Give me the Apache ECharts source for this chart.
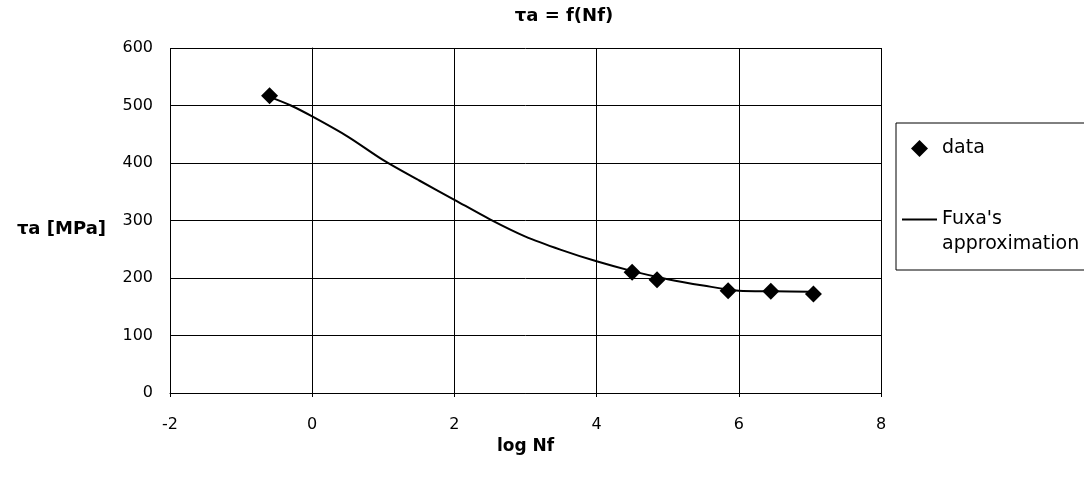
<!DOCTYPE html>
<html>
<head>
<meta charset="utf-8">
<script src="https://cdn.jsdelivr.net/npm/echarts@6/dist/echarts.min.js"></script>
<style>
  html, body { margin: 0; padding: 0; background: #fff; }
  #main { width: 1084px; height: 483px; }
</style>
</head>
<body>
<div id="main"></div>
<script>
// measured points (log Nf, tau_a)
var dataX = [-0.6, 4.5, 4.85, 5.85, 6.45, 7.05];
var dataY = [517, 210, 197, 178, 177, 172];

// Fuxa's approximation curve
var fitX = [-0.6, -0.3, 0, 0.5, 1, 1.5, 2, 2.5, 3, 3.5, 4, 4.5, 5, 5.5, 6, 6.5, 7];
var fitY = [515, 500, 481, 446, 405, 370, 336, 302, 272, 249, 229, 212, 198, 187, 178, 177, 176];

var xTicks = [-2, 0, 2, 4, 6, 8];
var yTicks = [0, 100, 200, 300, 400, 500, 600];

var font = 'DejaVu Sans';
var fitName = "Fuxa's\napproximation";

function pairs(xs, ys) {
  var out = [];
  for (var i = 0; i < xs.length; i++) out.push([xs[i], ys[i]]);
  return out;
}

// legend icons: extra zero-length moves keep the 35x17 box so shapes are not stretched
var diamondIcon = 'path://M0,8.5L0,8.5M35,8.5L35,8.5M17.5,-0.5L26.5,8.5L17.5,17.5L8.5,8.5Z';
var lineIcon = 'path://M0,0L0,0M0,17L0,17M0,7.5L35,7.5L35,9.5L0,9.5Z';

var chart = echarts.init(document.getElementById('main'));

var option = {
  backgroundColor: '#fff',
  animation: false,
  title: {
    text: 'τa = f(Nf)',
    left: 559,
    top: 2,
    textAlign: 'center',
    textStyle: { fontFamily: font, fontSize: 18, fontWeight: 'bold', color: '#000' }
  },
  grid: { left: 170, right: 203, top: 48, bottom: 90 },
  legend: {
    orient: 'vertical',
    left: 896,
    top: 123,
    padding: [13, 200, 13, 6],
    itemGap: 21,
    itemWidth: 35,
    itemHeight: 17,
    borderColor: '#000',
    borderWidth: 1,
    backgroundColor: '#fff',
    textStyle: { fontFamily: font, fontSize: 19, color: '#000', lineHeight: 25 },
    formatter: function (name) {
      // empty first line so the icon sits level with "Fuxa's"
      return name === fitName ? '\n' + name : name;
    },
    data: [
      { name: 'data', icon: diamondIcon, itemStyle: { color: '#000' } },
      { name: fitName, icon: lineIcon, itemStyle: { color: '#000' } }
    ]
  },
  xAxis: {
    type: 'value',
    min: xTicks[0],
    max: xTicks[xTicks.length - 1],
    interval: 2,
    name: 'log Nf',
    nameLocation: 'middle',
    nameGap: 36,
    nameTextStyle: { fontFamily: font, fontSize: 17, fontWeight: 'bold', color: '#000' },
    axisLine: { lineStyle: { color: '#000', width: 1 } },
    axisTick: { show: true, length: 4, lineStyle: { color: '#000' } },
    axisLabel: { margin: 24, fontFamily: font, fontSize: 16, color: '#000' },
    splitLine: { show: true, lineStyle: { color: '#000', width: 1 } }
  },
  yAxis: {
    type: 'value',
    min: yTicks[0],
    max: yTicks[yTicks.length - 1],
    interval: 100,
    name: 'τa [MPa]',
    nameLocation: 'middle',
    nameRotate: 0,
    nameGap: 64,
    nameTextStyle: { fontFamily: font, fontSize: 18, fontWeight: 'bold', color: '#000', verticalAlign: 'top' },
    axisLine: { show: true, lineStyle: { color: '#000', width: 1 } },
    axisTick: { show: true, length: 4, lineStyle: { color: '#000' } },
    axisLabel: { margin: 17, fontFamily: font, fontSize: 16, color: '#000' },
    splitLine: { show: true, lineStyle: { color: '#000', width: 1 } }
  },
  series: [
    {
      name: fitName,
      type: 'line',
      data: pairs(fitX, fitY),
      smooth: 0.3,
      symbol: 'none',
      lineStyle: { color: '#000', width: 2 },
      itemStyle: { color: '#000' },
      z: 2
    },
    {
      name: 'data',
      type: 'scatter',
      data: pairs(dataX, dataY),
      symbol: 'diamond',
      symbolSize: 17,
      itemStyle: { color: '#000', opacity: 1 },
      z: 3
    }
  ]
};

chart.setOption(option);
</script>
</body>
</html>
